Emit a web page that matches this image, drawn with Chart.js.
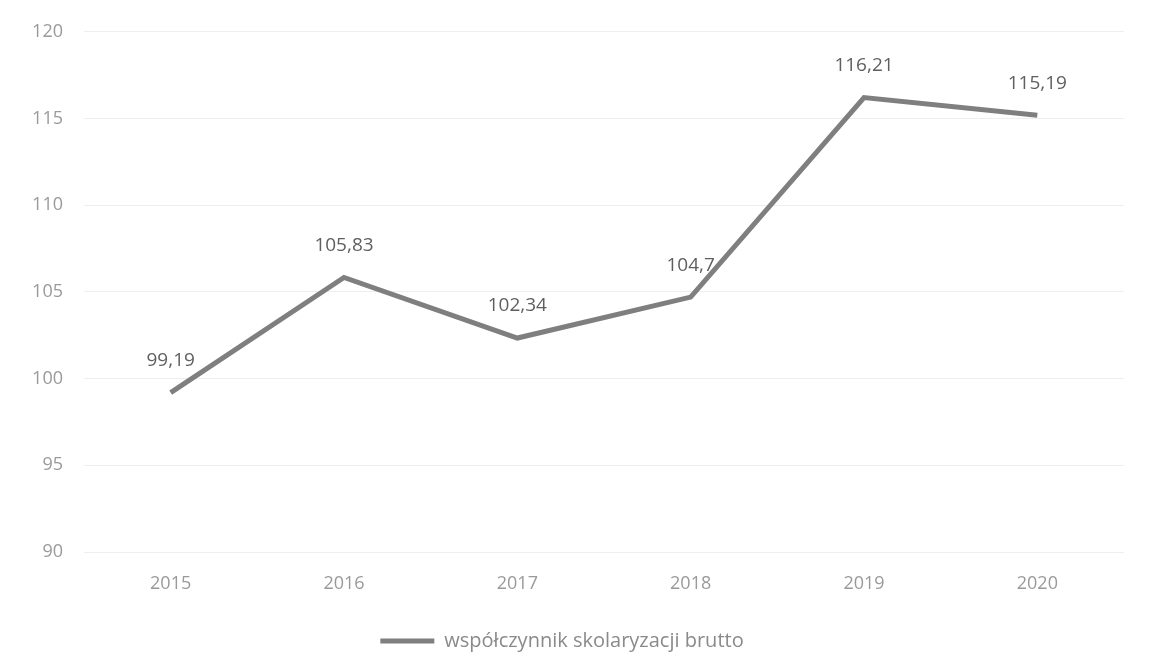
<!DOCTYPE html>
<html>
<head>
<meta charset="utf-8">
<script src="https://cdn.jsdelivr.net/npm/chart.js@4"></script>
<style>
  html, body { margin: 0; padding: 0; background: #fff; }
  #wrap { width: 1151px; height: 666px; }
</style>
</head>
<body>
<div id="wrap"><canvas id="lineChart" width="1151" height="666"></canvas></div>
<script>
const years = ['2015', '2016', '2017', '2018', '2019', '2020'];
const grossRate = [99.19, 105.83, 102.34, 104.7, 116.21, 115.19];
const yTicks = [90, 95, 100, 105, 110, 115, 120];
const seriesName = 'współczynnik skolaryzacji brutto';

const fontFamily = '"Open Sans", "Noto Sans", sans-serif';

// labels above each point, with a decimal comma
const valueLabels = {
  id: 'valueLabels',
  afterDatasetsDraw(chart) {
    const ctx = chart.ctx;
    const meta = chart.getDatasetMeta(0);
    ctx.save();
    ctx.font = '19px ' + fontFamily;
    ctx.fillStyle = '#5f5f5f';
    ctx.textAlign = 'center';
    ctx.textBaseline = 'middle';
    meta.data.forEach((pt, i) => {
      const txt = String(grossRate[i]).replace('.', ',');
      ctx.fillText(txt, pt.x, pt.y - 32);
    });
    ctx.restore();
  }
};

let ctxLine = document.getElementById('lineChart').getContext('2d');
let lineChart = new Chart(ctxLine, {
  type: 'line',
  data: {
    labels: years,
    datasets: [{
      label: seriesName,
      data: grossRate,
      borderColor: '#7f7f7f',
      backgroundColor: '#7f7f7f',
      borderWidth: 5,
      pointRadius: 0,
      tension: 0,
      fill: false
    }]
  },
  options: {
    responsive: false,
    animation: false,
    layout: { padding: { top: 25, right: 27, left: 0, bottom: 5 } },
    plugins: {
      tooltip: { enabled: false },
      legend: {
        position: 'bottom',
        labels: {
          usePointStyle: true,
          pointStyle: 'line',
          pointStyleWidth: 54,
          boxHeight: 5,
          padding: 0,
          color: '#8a8a8a',
          font: { family: fontFamily, size: 20 }
        }
      }
    },
    scales: {
      x: {
        offset: true,
        grid: { display: false, drawTicks: false },
        border: { display: false },
        afterFit: scale => { scale.height = 79; },
        ticks: {
          color: '#9a9a9a',
          padding: 21,
          font: { family: fontFamily, size: 18 }
        }
      },
      y: {
        min: 90,
        max: 120,
        afterFit: scale => { scale.width = 84; },
        afterBuildTicks: scale => { scale.ticks = yTicks.map(v => ({ value: v })); },
        grid: { color: '#eeeeee', lineWidth: 1, drawTicks: false },
        border: { display: false },
        ticks: {
          color: '#9a9a9a',
          padding: 21,
          font: { family: fontFamily, size: 18 }
        }
      }
    }
  },
  plugins: [valueLabels]
});
</script>
</body>
</html>
